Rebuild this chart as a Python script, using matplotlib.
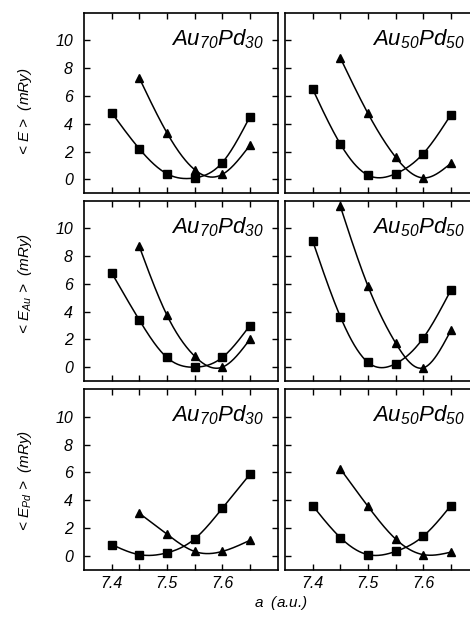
import numpy as np
import matplotlib
matplotlib.use("Agg")
import matplotlib.pyplot as plt

plt.rcParams['font.family'] = ['Liberation Sans', 'DejaVu Sans']
plt.rcParams['font.style'] = 'italic'
plt.rcParams['mathtext.fontset'] = 'custom'
plt.rcParams['mathtext.rm'] = 'Liberation Sans:italic'
plt.rcParams['mathtext.it'] = 'Liberation Sans:italic'

# lattice parameters (a.u.)
a_sq = [7.40, 7.45, 7.50, 7.55, 7.60, 7.65]
a_tri = [7.45, 7.50, 7.55, 7.60, 7.65]

# <E>
e_sq_70 = [4.8, 2.2, 0.4, 0.1, 1.2, 4.5]
e_tri_70 = [7.3, 3.35, 0.7, 0.35, 2.45]
e_sq_50 = [6.5, 2.55, 0.3, 0.4, 1.85, 4.65]
e_tri_50 = [8.75, 4.75, 1.6, 0.1, 1.15]
# <E_Au>
eau_sq_70 = [6.8, 3.4, 0.7, 0.0, 0.7, 3.0]
eau_tri_70 = [8.7, 3.75, 0.8, 0.0, 2.0]
eau_sq_50 = [9.1, 3.65, 0.35, 0.25, 2.1, 5.55]
eau_tri_50 = [11.6, 5.85, 1.75, -0.05, 2.65]
# <E_Pd>
epd_sq_70 = [0.8, 0.07, 0.2, 1.2, 3.4, 5.85]
epd_tri_70 = [3.05, 1.55, 0.3, 0.3, 1.1]
epd_sq_50 = [3.6, 1.3, 0.07, 0.3, 1.4, 3.6]
epd_tri_50 = [6.25, 3.55, 1.2, 0.07, 0.25]

ylabels = [r'< $E$ >  (mRy)', r'< $E_{Au}$ >  (mRy)', r'< $E_{Pd}$ >  (mRy)']
titles = [r'Au$_{70}$Pd$_{30}$', r'Au$_{50}$Pd$_{50}$']

panels = [
    [(e_sq_70, e_tri_70), (e_sq_50, e_tri_50)],
    [(eau_sq_70, eau_tri_70), (eau_sq_50, eau_tri_50)],
    [(epd_sq_70, epd_tri_70), (epd_sq_50, epd_tri_50)],
]


def spline(x, y, n=200):
    # natural cubic spline through the points, only used to draw the curve
    x = np.asarray(x, float)
    y = np.asarray(y, float)
    m = len(x)
    h = np.diff(x)
    A = np.zeros((m, m))
    b = np.zeros(m)
    A[0, 0] = A[-1, -1] = 1
    for i in range(1, m - 1):
        A[i, i - 1] = h[i - 1]
        A[i, i] = 2 * (h[i - 1] + h[i])
        A[i, i + 1] = h[i]
        b[i] = 6 * ((y[i + 1] - y[i]) / h[i] - (y[i] - y[i - 1]) / h[i - 1])
    M = np.linalg.solve(A, b)
    xs = np.linspace(x[0], x[-1], n)
    idx = np.clip(np.searchsorted(x, xs) - 1, 0, m - 2)
    x0, x1 = x[idx], x[idx + 1]
    hh = x1 - x0
    t0 = x1 - xs
    t1 = xs - x0
    ys = (M[idx] * t0 ** 3 + M[idx + 1] * t1 ** 3) / (6 * hh) \
        + (y[idx] / hh - M[idx] * hh / 6) * t0 \
        + (y[idx + 1] / hh - M[idx + 1] * hh / 6) * t1
    return xs, ys


fig = plt.figure(figsize=(4.7, 6.23), dpi=100)
lefts = [84 / 470, 285 / 470]
width = 193.5 / 470
tops = [12.7, 200.6, 389.0]
height = 180.5 / 623
label_y = [111, 284, 481]

for r in range(3):
    for c in range(2):
        bottom = 1 - (tops[r] + 180.5) / 623
        ax = fig.add_axes([lefts[c], bottom, width, height])
        sq, tri = panels[r][c]
        xs, ys = spline(a_sq, sq)
        ax.plot(xs, ys, color='black', lw=1.1)
        xs, ys = spline(a_tri, tri)
        ax.plot(xs, ys, color='black', lw=1.1)
        ax.plot(a_sq, sq, 's', color='black', ms=5.8)
        ax.plot(a_tri, tri, '^', color='black', ms=6)
        ax.set_xlim(7.35, 7.70)
        ax.set_ylim(-1, 12)
        ax.set_xticks([7.40, 7.45, 7.50, 7.55, 7.60, 7.65])
        ax.set_yticks([0, 2, 4, 6, 8, 10])
        if r == 2:
            ax.set_xticklabels(['7.4', '', '7.5', '', '7.6', ''])
        else:
            ax.set_xticklabels([])
        if c == 0:
            ax.set_yticklabels(['0', '2', '4', '6', '8', '10'])
        else:
            ax.set_yticklabels([])
            ax.spines['right'].set_visible(False)
        ax.tick_params(direction='in', top=True, right=(c == 0), length=4.5,
                       width=1.0, labelsize=11.5)
        ax.tick_params(axis='x', pad=5)
        ax.tick_params(axis='y', pad=8)
        for s in ax.spines.values():
            s.set_linewidth(1.2)
        ax.text(0.93, 0.82, titles[c], transform=ax.transAxes, ha='right',
                va='baseline', fontsize=16)
    fig.text(25 / 470, 1 - label_y[r] / 623, ylabels[r], rotation=90,
             ha='center', va='center', fontsize=11)

fig.text(281 / 470, 1 - 603 / 623, r'$a$  (a.u.)', ha='center', va='center',
         fontsize=11)

fig.savefig('out.png', dpi=100)
